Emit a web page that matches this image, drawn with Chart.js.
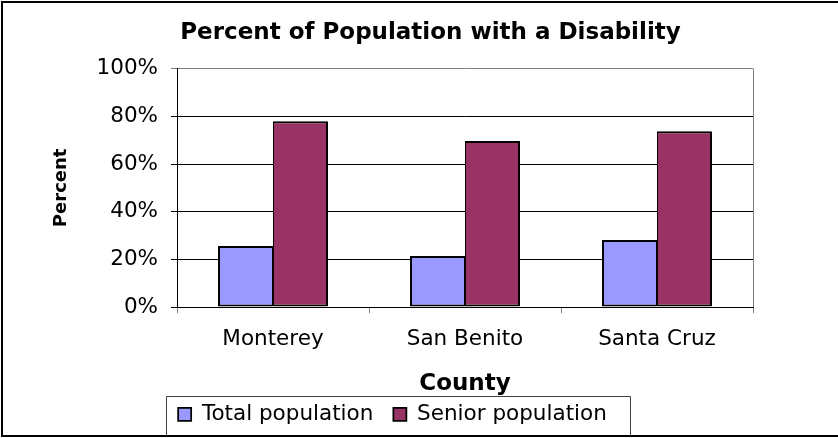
<!DOCTYPE html>
<html>
<head>
<meta charset="utf-8">
<title>Percent of Population with a Disability</title>
<script src="https://cdn.jsdelivr.net/npm/chart.js@4.4.1/dist/chart.umd.min.js"></script>
<style>
  html, body { margin: 0; padding: 0; background: #ffffff; }
  .contenitore { width: 838px; height: 438px; }
</style>
</head>
<body>
<div class="contenitore"><canvas id="grafico"></canvas></div>
<script>
// dati
var contee = ['Monterey', 'San Benito', 'Santa Cruz'];
var nomi_serie = ['Total population', 'Senior population'];
var totale_popolazione = [25.6, 21.4, 28.1];
var popolazione_anziana = [77.9, 69.6, 73.7];
var tacche_y = [0, 20, 40, 60, 80, 100];

var font_testo = 'DejaVu Sans';

// cornici: bordo esterno, bordo grigio dell'area e riquadro della legenda
var cornici = {
  id: 'cornici',
  afterLayout: function(chart){
    // il titolo nell'originale e' centrato un po' piu' a destra della legenda
    if (chart.titleBlock) {
      chart.titleBlock.left += 38;
      chart.titleBlock.right += 38;
    }
  },
  beforeDatasetsDraw: function(chart){
    var ctx = chart.ctx;
    var area = chart.chartArea;
    ctx.save();
    ctx.strokeStyle = '#808080';
    ctx.lineWidth = 1;
    ctx.beginPath();
    ctx.moveTo(Math.round(area.right) + 0.5, area.top);
    ctx.lineTo(Math.round(area.right) + 0.5, area.bottom);
    ctx.stroke();
    ctx.restore();
  },
  afterDraw: function(chart){
    var ctx = chart.ctx;
    ctx.save();
    ctx.strokeStyle = '#000000';
    ctx.lineWidth = 2;
    ctx.strokeRect(2, 2, chart.width + 20, chart.height - 4);

    var caselle = chart.legend.legendHitBoxes;
    if (caselle && caselle.length) {
      var prima = caselle[0];
      var ultima = caselle[caselle.length - 1];
      var sx = Math.round(prima.left - 12) + 0.5;
      var dx = Math.round(ultima.left + ultima.width + 23) + 0.5;
      var su = Math.round(prima.top - 8) + 0.5;
      ctx.strokeStyle = '#404040';
      ctx.lineWidth = 1;
      ctx.beginPath();
      ctx.moveTo(sx, chart.height - 2);
      ctx.lineTo(sx, su);
      ctx.lineTo(dx, su);
      ctx.lineTo(dx, chart.height - 2);
      ctx.stroke();
    }
    ctx.restore();
  }
};

var ctx = document.getElementById('grafico').getContext('2d');
var chart = new Chart(ctx, {
  type: 'bar',
  data: {
    labels: contee,
    datasets: [{
      label: nomi_serie[0],
      data: totale_popolazione,
      backgroundColor: '#9999FF',
      borderColor: '#000000',
      // bordo destro sottile: le due barre affiancate condividono una sola linea
      borderWidth: { top: 2, left: 2, bottom: 2, right: 1 },
      borderSkipped: false
    }, {
      label: nomi_serie[1],
      data: popolazione_anziana,
      backgroundColor: '#993366',
      borderColor: '#000000',
      borderWidth: { top: 2, left: 1, bottom: 2, right: 2 },
      borderSkipped: false
    }]
  },
  options: {
    responsive: true,
    maintainAspectRatio: false,
    animation: false,
    datasets: {
      bar: { categoryPercentage: 0.573, barPercentage: 1 }
    },
    layout: {
      padding: { left: 32, right: 85, top: 0, bottom: 3 }
    },
    plugins: {
      title: {
        display: true,
        text: 'Percent of Population with a Disability',
        color: '#000000',
        font: { family: font_testo, size: 23, weight: 'bold' },
        padding: { top: 19, bottom: 22 }
      },
      legend: {
        position: 'bottom',
        labels: {
          color: '#000000',
          font: { family: font_testo, size: 21.5 },
          boxWidth: 13,
          boxHeight: 13,
          padding: 20
        }
      },
      tooltip: { enabled: false }
    },
    scales: {
      x: {
        grid: {
          offset: true,
          drawOnChartArea: false,
          drawTicks: true,
          tickLength: 6,
          color: '#808080'
        },
        border: { color: '#000000', width: 1 },
        ticks: {
          color: '#000000',
          font: { family: font_testo, size: 21.5 },
          padding: 13
        },
        title: {
          display: true,
          text: 'County',
          color: '#000000',
          font: { family: font_testo, size: 23, weight: 'bold' },
          padding: { top: 5, bottom: -14 }
        }
      },
      y: {
        min: 0,
        max: 100,
        afterBuildTicks: function(scala){
          scala.ticks = tacche_y.map(function(v){ return { value: v }; });
        },
        afterFit: function(scala){
          scala.width = 145;
        },
        grid: {
          color: function(c){
            return c.tick && c.tick.value === 100 ? '#808080' : '#000000';
          },
          lineWidth: 1,
          drawTicks: true,
          tickLength: 6
        },
        border: { color: '#000000', width: 1 },
        ticks: {
          color: '#000000',
          font: { family: font_testo, size: 21.5 },
          padding: 13,
          callback: function(v){ return v + '%'; }
        },
        title: {
          display: true,
          text: 'Percent',
          color: '#000000',
          font: { family: font_testo, size: 18, weight: 'bold' },
          padding: { top: 19, bottom: 0 }
        }
      }
    }
  },
  plugins: [cornici]
});
</script>
</body>
</html>
